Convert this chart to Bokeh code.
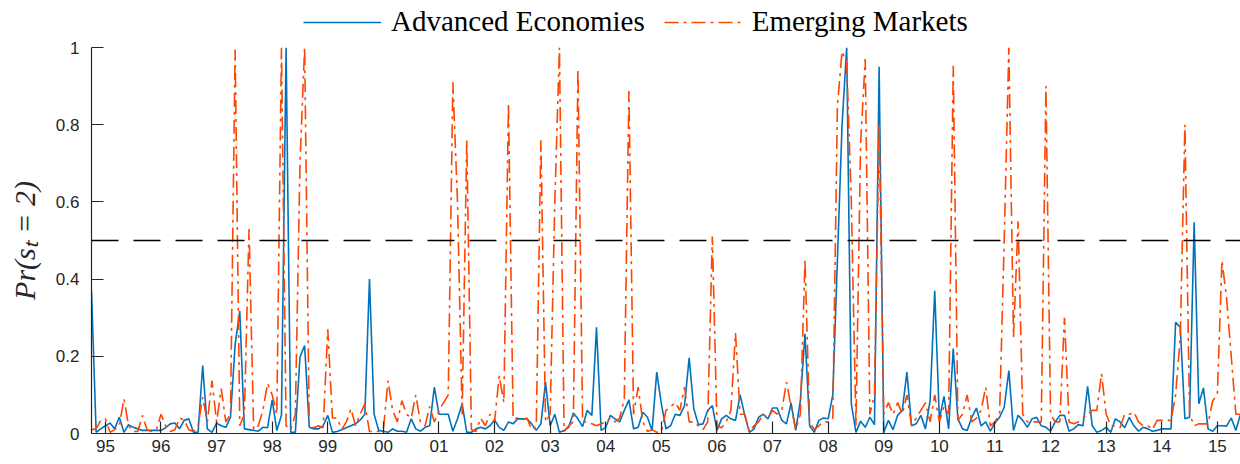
from bokeh.plotting import figure
from bokeh.layouts import column
from bokeh.models import Range1d, FixedTicker, Span, Legend, LegendItem
from bokeh.embed import file_html
from bokeh.resources import INLINE

# ---------------- data (monthly, Oct 1994 .. Jun 2015) ----------------
start_year = 1994
start_month = 10

advanced = [
    0.37, 0.003, 0.012, 0.02, 0.027, 0.012, 0.042, 0.003, 0.023, 0.016,
    0.012, 0.008, 0.008, 0.008, 0.008, 0.008, 0.015, 0.025, 0.027, 0.012,
    0.034, 0.038, 0.003, 0.003, 0.176, 0.012, 0.003, 0.027, 0.02, 0.016,
    0.042, 0.23, 0.317, 0.012, 0.01, 0.008, 0.006, 0.016, 0.015, 0.087,
    0.008, 0.047, 1.0, 0.003, 0.003, 0.198, 0.228, 0.016, 0.012, 0.012,
    0.02, 0.047, 0.003, 0.005, 0.01, 0.015, 0.02, 0.025, 0.035, 0.05,
    0.40, 0.05, 0.008, 0.006, 0.003, 0.012, 0.006, 0.006, 0.003, 0.038,
    0.012, 0.006, 0.016, 0.02, 0.12, 0.05, 0.05, 0.05, 0.006, 0.038,
    0.077, 0.003, 0.003, 0.012, 0.016, 0.012, 0.02, 0.035, 0.016, 0.008,
    0.03, 0.025, 0.038, 0.038, 0.038, 0.025, 0.008, 0.025, 0.133, 0.02,
    0.05, 0.003, 0.008, 0.016, 0.053, 0.038, 0.018, 0.06, 0.047, 0.275,
    0.008, 0.016, 0.047, 0.038, 0.03, 0.06, 0.087, 0.012, 0.016, 0.055,
    0.042, 0.008, 0.159, 0.077, 0.012, 0.02, 0.05, 0.047, 0.072, 0.196,
    0.064, 0.023, 0.025, 0.06, 0.072, 0.008, 0.038, 0.047, 0.038, 0.034,
    0.1, 0.047, 0.003, 0.012, 0.042, 0.05, 0.038, 0.066, 0.066, 0.034,
    0.025, 0.079, 0.008, 0.085, 0.258, 0.02, 0.003, 0.034, 0.04, 0.038,
    0.1, 0.45, 0.8, 1.0, 0.077, 0.003, 0.032, 0.016, 0.042, 0.023,
    0.95, 0.003, 0.034, 0.01, 0.047, 0.06, 0.159, 0.02, 0.025, 0.047,
    0.012, 0.085, 0.37, 0.038, 0.096, 0.012, 0.22, 0.038, 0.012, 0.008,
    0.042, 0.066, 0.02, 0.03, 0.006, 0.027, 0.042, 0.068, 0.163, 0.008,
    0.047, 0.034, 0.016, 0.038, 0.042, 0.02, 0.016, 0.006, 0.03, 0.047,
    0.047, 0.006, 0.012, 0.023, 0.02, 0.122, 0.02, 0.003, 0.008, 0.016,
    0.003, 0.038, 0.03, 0.015, 0.042, 0.02, 0.006, 0.016, 0.012, 0.006,
    0.008, 0.012, 0.012, 0.012, 0.288, 0.275, 0.038, 0.042, 0.547, 0.077,
    0.118, 0.012, 0.006, 0.02, 0.02, 0.019, 0.04, 0.008, 0.05,
]

emerging = [
    0.01, 0.012, 0.034, 0.038, 0.003, 0.01, 0.02, 0.09, 0.02, 0.005,
    0.005, 0.047, 0.01, 0.005, 0.01, 0.05, 0.02, 0.005, 0.01, 0.04,
    0.035, 0.01, 0.005, 0.02, 0.094, 0.03, 0.137, 0.03, 0.116, 0.03,
    0.05, 0.995, 0.02, 0.05, 0.53, 0.01, 0.02, 0.06, 0.13, 0.1,
    0.05, 1.0, 0.02, 0.01, 0.05, 0.7, 1.0, 0.02, 0.015, 0.02,
    0.015, 0.27, 0.04, 0.04, 0.01, 0.03, 0.064, 0.02, 0.05, 0.077,
    0.005, 0.005, 0.005, 0.01, 0.137, 0.06, 0.03, 0.085, 0.05, 0.04,
    0.1, 0.03, 0.02, 0.07, 0.03, 0.06, 0.08, 0.1, 0.91, 0.6,
    0.05, 0.76, 0.01, 0.005, 0.04, 0.02, 0.05, 0.03, 0.15, 0.08,
    0.856, 0.038, 0.04, 0.035, 0.04, 0.01, 0.02, 0.76, 0.03, 0.05,
    0.6, 1.0, 0.005, 0.02, 0.03, 0.945, 0.03, 0.03, 0.025, 0.02,
    0.025, 0.03, 0.04, 0.03, 0.04, 0.09, 0.887, 0.05, 0.12, 0.03,
    0.005, 0.01, 0.003, 0.005, 0.06, 0.07, 0.08, 0.06, 0.12, 0.03,
    0.03, 0.02, 0.01, 0.03, 0.51, 0.02, 0.015, 0.03, 0.06, 0.26,
    0.05, 0.05, 0.005, 0.02, 0.03, 0.05, 0.04, 0.06, 0.05, 0.06,
    0.133, 0.07, 0.01, 0.05, 0.45, 0.03, 0.01, 0.02, 0.03, 0.03,
    0.04, 0.85, 0.99, 0.96, 0.6, 0.02, 0.75, 0.97, 0.05, 0.1,
    0.8, 0.05, 0.08, 0.05, 0.08, 0.05, 0.1, 0.02, 0.04, 0.06,
    0.08, 0.03, 0.1, 0.03, 0.07, 0.05, 0.953, 0.034, 0.05, 0.1,
    0.03, 0.04, 0.06, 0.12, 0.02, 0.03, 0.05, 0.5, 1.0, 0.25,
    0.55, 0.05, 0.03, 0.03, 0.03, 0.03, 0.9, 0.05, 0.03, 0.03,
    0.30, 0.03, 0.025, 0.03, 0.04, 0.05, 0.06, 0.06, 0.155, 0.05,
    0.02, 0.02, 0.015, 0.05, 0.05, 0.055, 0.03, 0.02, 0.02, 0.01,
    0.034, 0.034, 0.034, 0.034, 0.1, 0.25, 0.8, 0.05, 0.02, 0.025,
    0.025, 0.025, 0.085, 0.1, 0.448, 0.35, 0.2, 0.05, 0.05,
]

series_names = ["Advanced Economies", "Emerging Markets"]
x_tick_years = list(range(1995, 2016))
x_tick_labels = ["95", "96", "97", "98", "99", "00", "01", "02", "03", "04",
                 "05", "06", "07", "08", "09", "10", "11", "12", "13", "14", "15"]
y_ticks = [0, 0.2, 0.4, 0.6, 0.8, 1.0]
y_tick_labels = ["0", "0.2", "0.4", "0.6", "0.8", "1"]
threshold = 0.5
y_label = "Pr(s\u209c = 2)"

# ---------------- styles ----------------
adv_color = "#0072BD"
em_color = "#FF4500"
em_dash = "14 5 3 5"
axis_color = "#262626"

# ---------------- main plot ----------------
x0 = start_year + (start_month - 1) / 12.0
xs = [x0 + k / 12.0 for k in range(len(advanced))]

p = figure(width=1240, height=426, output_backend="svg", toolbar_location=None,
           x_range=Range1d(xs[0], xs[-1]), y_range=Range1d(0, 1),
           min_border_left=91, min_border_right=0, min_border_top=9,
           min_border_bottom=31)
p.outline_line_color = None
p.xgrid.visible = False
p.ygrid.visible = False

for ax in (p.xaxis[0], p.yaxis[0]):
    ax.axis_line_color = axis_color
    ax.axis_line_width = 1.2
    ax.major_tick_line_color = axis_color
    ax.major_tick_line_width = 1.2
    ax.major_tick_in = 12
    ax.major_tick_out = 0
    ax.minor_tick_line_color = None
    ax.major_label_text_font = "Liberation Sans"
    ax.major_label_text_font_size = "17px"
    ax.major_label_text_color = axis_color

p.xaxis.ticker = FixedTicker(ticks=x_tick_years)
p.xaxis.major_label_overrides = {y: l for y, l in zip(x_tick_years, x_tick_labels)}
p.xaxis.major_label_standoff = 6

p.yaxis.ticker = FixedTicker(ticks=y_ticks)
p.yaxis.major_label_overrides = {t: l for t, l in zip(y_ticks, y_tick_labels)}
p.yaxis.major_label_standoff = 12
p.yaxis.axis_label = y_label
p.yaxis.axis_label_text_font = "Liberation Serif"
p.yaxis.axis_label_text_font_style = "italic"
p.yaxis.axis_label_text_font_size = "30px"
p.yaxis.axis_label_text_color = "#262626"
p.yaxis.axis_label_standoff = 12

p.line(xs, advanced, line_color=adv_color, line_width=1.6)
p.line(xs, emerging, line_color=em_color, line_width=1.6, line_dash=em_dash)

p.add_layout(Span(location=threshold, dimension="width", line_color="black",
                  line_width=1.5, line_dash="27 15"))

# ---------------- legend strip above the plot ----------------
leg = figure(width=1240, height=38, output_backend="svg", toolbar_location=None,
             x_range=Range1d(0, 1), y_range=Range1d(0, 1),
             x_axis_type=None, y_axis_type=None,
             min_border_left=91, min_border_right=0, min_border_top=0,
             min_border_bottom=0)
leg.outline_line_color = None
leg.xgrid.visible = False
leg.ygrid.visible = False
# proxies for the legend (series lie outside this strip's ranges, so unseen)
lr_adv = leg.line(xs, advanced, line_color=adv_color, line_width=1.6)
lr_em = leg.line(xs, emerging, line_color=em_color, line_width=1.6, line_dash=em_dash)

legend = Legend(items=[LegendItem(label=series_names[0], renderers=[lr_adv]),
                       LegendItem(label=series_names[1], renderers=[lr_em])],
                orientation="horizontal", location=(212, 0),
                border_line_color=None, background_fill_alpha=0,
                label_text_font="Liberation Serif", label_text_font_size="29px",
                label_text_color="black", glyph_width=78, glyph_height=30,
                label_height=30, label_standoff=10, spacing=19,
                padding=0, margin=0)
leg.add_layout(legend, "center")

layout = column(leg, p, spacing=0)
open("out.html", "w").write(file_html(layout, INLINE))
